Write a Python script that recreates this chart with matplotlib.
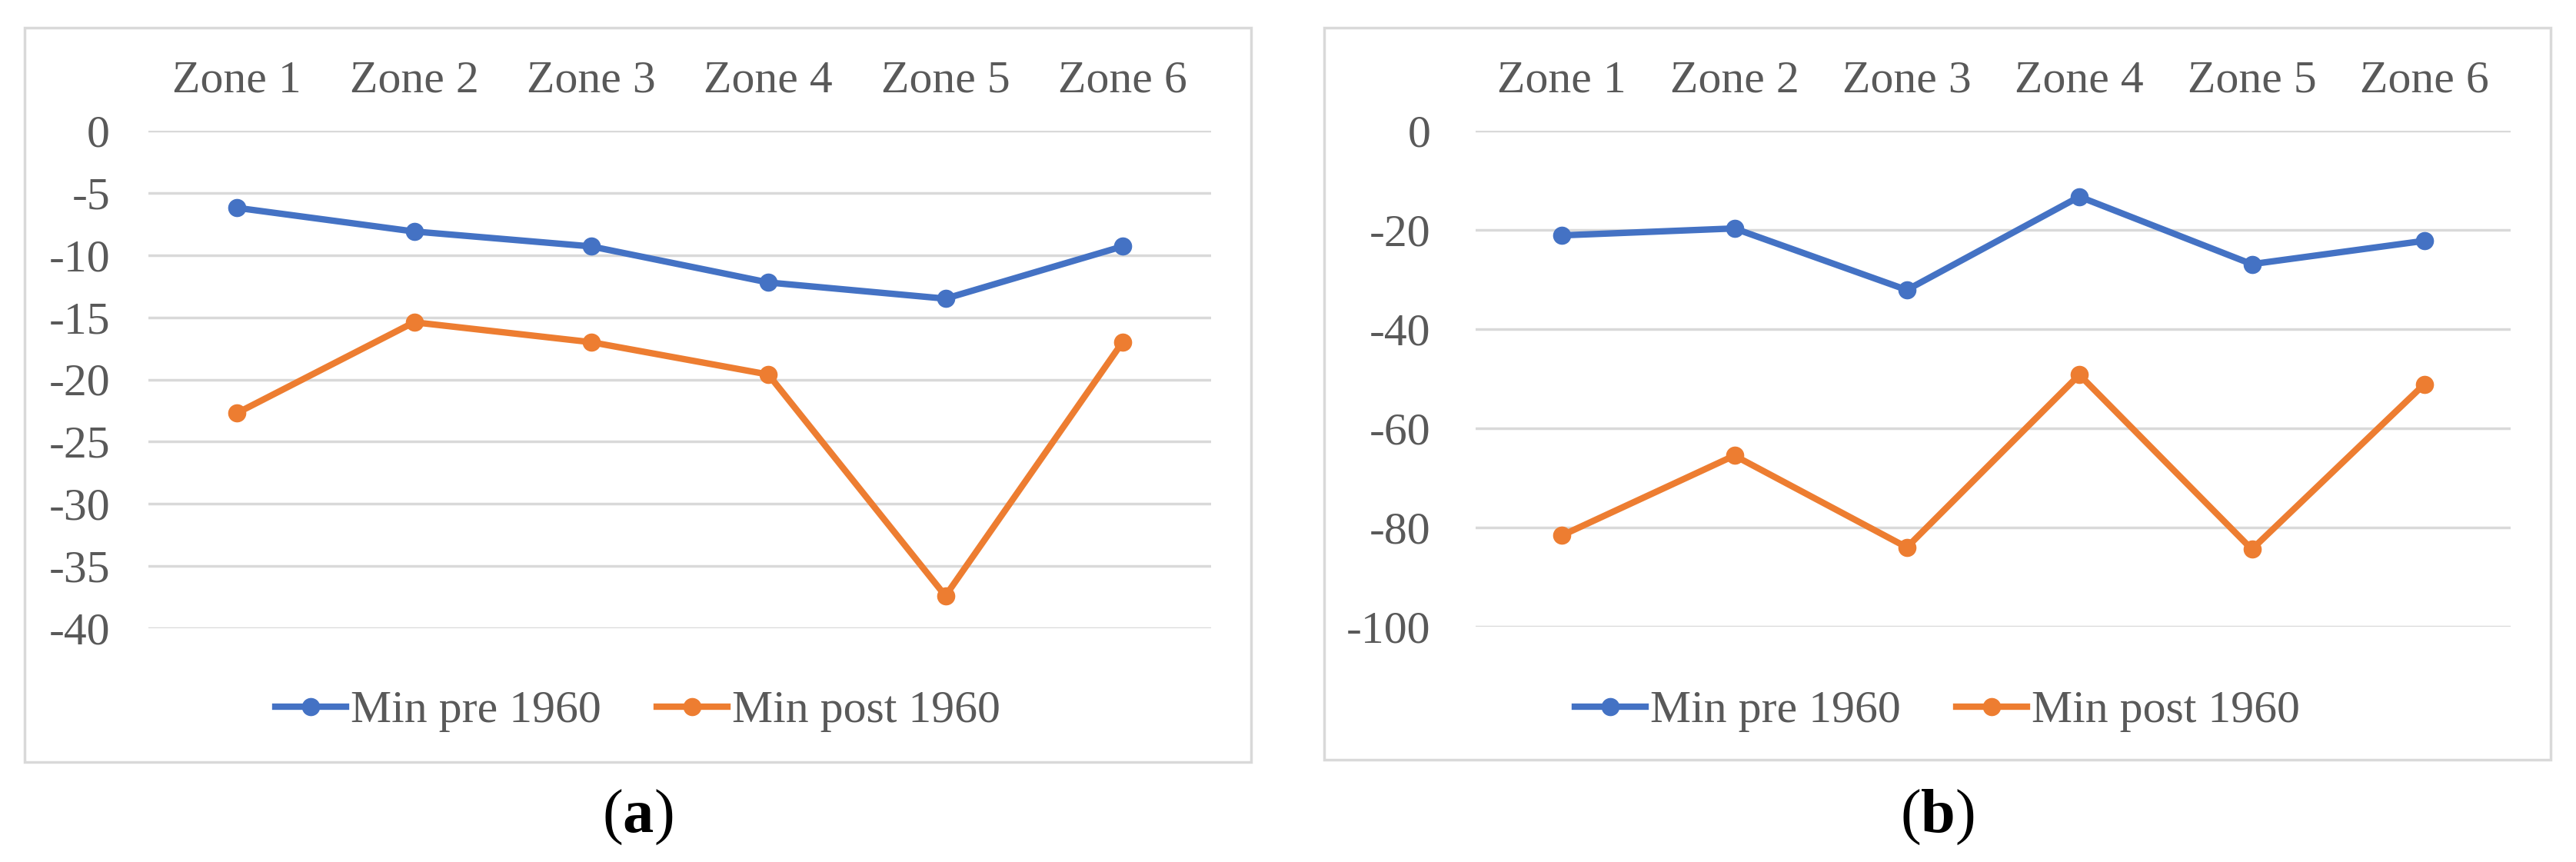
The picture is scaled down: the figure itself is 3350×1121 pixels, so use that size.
import numpy as np
import matplotlib
matplotlib.use("Agg")
import matplotlib.pyplot as plt
from matplotlib.patches import Rectangle

plt.rcParams['font.family'] = ['Liberation Serif', 'DejaVu Serif']
plt.rcParams['mathtext.fontset'] = 'custom'
plt.rcParams['mathtext.rm'] = 'Liberation Serif'
plt.rcParams['mathtext.bf'] = 'Liberation Serif:bold'

zones = ["Zone 1", "Zone 2", "Zone 3", "Zone 4", "Zone 5", "Zone 6"]

# panel (a)
pre_a = [-6.2, -8.1, -9.3, -12.2, -13.5, -9.3]
post_a = [-22.7, -15.4, -17.0, -19.6, -37.4, -17.0]
ticks_a = [0, -5, -10, -15, -20, -25, -30, -35, -40]

# panel (b)
pre_b = [-21.1, -19.7, -32.1, -13.3, -26.9, -22.2]
post_b = [-81.6, -65.5, -84.0, -49.2, -84.4, -51.1]
ticks_b = [0, -20, -40, -60, -80, -100]

series_names = ["Min pre 1960", "Min post 1960"]

W, H = 3350, 1121
blue = "#4472C4"
orange = "#ED7D31"
txt = "#595959"
grid = "#D9D9D9"
fs = 43

fig = plt.figure(figsize=(W / 100, H / 100), dpi=100)


def px(x0, y0, x1, y1):
    # pixel box -> figure fraction [left, bottom, width, height]
    return [x0 / W, 1 - y1 / H, (x1 - x0) / W, (y1 - y0) / H]


def panel(rect, box, pre, post, ticks, ypad, letter):
    # light grey frame round the chart
    bx = px(*box)
    fig.patches.append(Rectangle((bx[0], bx[1]), bx[2], bx[3], transform=fig.transFigure,
                                 fill=False, edgecolor=grid, linewidth=2.5))
    ax = fig.add_axes(px(*rect))
    x = np.arange(len(zones))
    l1, = ax.plot(x, pre, color=blue, lw=6, marker='o', ms=16, label=series_names[0])
    l2, = ax.plot(x, post, color=orange, lw=6, marker='o', ms=16, label=series_names[1])
    ax.set_xlim(-0.5, len(zones) - 0.5)
    ax.set_ylim(min(ticks), max(ticks))
    ax.set_yticks(ticks)
    ax.set_yticklabels([str(t) for t in ticks])
    ax.set_xticks(x)
    ax.set_xticklabels(zones)
    ax.xaxis.tick_top()
    ax.tick_params(axis='x', length=0, pad=27, labelsize=fs, labelcolor=txt)
    ax.tick_params(axis='y', length=0, pad=ypad, labelsize=fs, labelcolor=txt)
    ax.grid(axis='y', color=grid, lw=2.5)
    ax.set_axisbelow(True)
    for s in ax.spines.values():
        s.set_visible(False)

    cx = (box[0] + box[2]) / 2 / W
    fig.legend(handles=[l1, l2], loc='center', bbox_to_anchor=(cx, 1 - 925 / H),
               ncol=2, frameon=False, fontsize=fs, labelcolor=txt,
               handlelength=1.55, handletextpad=0.1, columnspacing=1.2)
    # caption with bold letter
    fig.text(cx, 1 - 1063 / H, r"($\mathbf{" + letter + r"}$)", ha='center', va='center',
             fontsize=58)
    return ax


ax_a = panel((193, 170, 1575, 817), (32, 36, 1627, 991), pre_a, post_a, ticks_a, 36, "a")
ax_b = panel((1919, 170, 3265, 815), (1722, 36, 3317, 988), pre_b, post_b, ticks_b, 42, "b")

fig.savefig("out.png", dpi=100, facecolor='white')
